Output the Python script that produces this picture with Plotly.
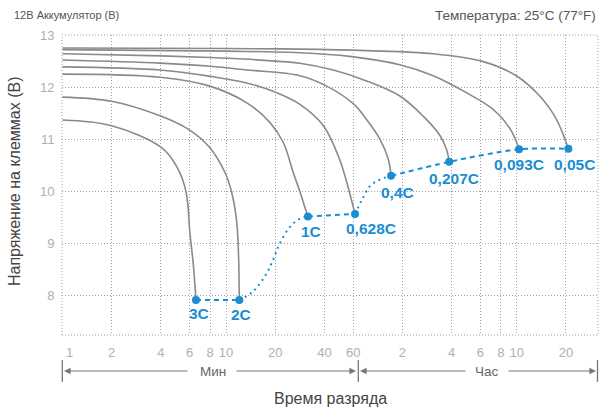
import math
import plotly.graph_objects as go

# ---- data (time in minutes, voltage in V) ----
rate_labels = ["3C", "2C", "1C", "0,628C", "0,4C", "0,207C", "0,093C", "0,05C"]
end_time = [6.55, 12.06, 31.7, 61.5, 102.2, 232, 620, 1241]
end_volt = [7.92, 7.92, 9.52, 9.57, 10.30, 10.57, 10.81, 10.82]

t_3c = [1, 2, 4.04, 4.99, 5.69, 6.02, 6.31, 6.55]
v_3c = [11.37, 11.26, 10.84, 10.48, 10.0, 9.19, 8.60, 7.92]

t_2c = [1, 2, 3.95, 5.9, 7.97, 9.87, 10.8, 11.6, 11.9, 12.06]
v_2c = [11.81, 11.73, 11.45, 11.19, 10.84, 10.36, 10.0, 9.45, 8.88, 7.92]

t_1c = [1, 3.95, 7.97, 13.4, 18.6, 22.4, 25.8, 28.3, 30.5, 31.7]
v_1c = [12.25, 12.19, 12.02, 11.70, 11.32, 10.94, 10.36, 10.0, 9.68, 9.52]

t_0628c = [1, 3.95, 7.97, 13.4, 19.4, 28.3, 39.4, 49.6, 56.4, 61.5]
v_0628c = [12.39, 12.33, 12.21, 12.08, 11.92, 11.67, 11.26, 10.61, 10.03, 9.57]

t_04c = [1, 3.95, 8, 13.4, 28.3, 41.3, 60.7, 72.4, 87.5, 98.5, 102.2]
v_04c = [12.52, 12.46, 12.40, 12.33, 12.22, 12.02, 11.67, 11.38, 11.0, 10.61, 10.30]

t_0207c = [1, 4, 8, 13, 20, 28.3, 45.3, 72.4, 115.6, 160, 204, 223, 232]
v_0207c = [12.64, 12.60, 12.57, 12.54, 12.50, 12.46, 12.33, 12.12, 11.83, 11.45, 11.07, 10.81, 10.57]

t_0093c = [1, 10, 28.3, 57, 115.6, 185, 297, 432, 549, 620]
v_0093c = [12.72, 12.69, 12.66, 12.59, 12.43, 12.22, 11.89, 11.57, 11.19, 10.81]

t_005c = [1, 10, 28.3, 72.4, 185, 374, 596, 829, 1051, 1241]
v_005c = [12.75, 12.74, 12.73, 12.70, 12.64, 12.49, 12.22, 11.83, 11.38, 10.82]

# end-voltage connector (read from the dotted transitions)
t_trans1 = [12.06, 14.7, 17.7, 19.5, 21.3, 24.6, 28.3, 31.7]
v_trans1 = [7.92, 8.09, 8.43, 8.71, 9.0, 9.32, 9.48, 9.52]
t_trans2 = [61.5, 67.6, 75.8, 87.5, 102.2]
v_trans2 = [9.57, 9.83, 10.10, 10.23, 10.30]

x_tickvals = [1, 2, 4, 6, 8, 10, 20, 40, 60, 120, 240, 360, 480, 600, 1200]
x_ticktext = ["\u2007\u20071", "2", "4", "6", "8", "10", "20", "40", "60", "2", "4", "6", "8", "10", "20"]
y_tickvals = [8, 9, 10, 11, 12, 13]

# label offsets in px (dx, dy)
label_dx = [3, 2, 3, 16, 6, 5, 0, 6]
label_dy = [-13, -14, -15, -15, -17, -17, -15, -16]

GRAY = "#8a8a8a"
BLUE = "#1a8ed1"
FONT = "Arial, Liberation Sans, sans-serif"

fig = go.Figure()

curves = [(t_3c, v_3c), (t_2c, v_2c), (t_1c, v_1c), (t_0628c, v_0628c),
          (t_04c, v_04c), (t_0207c, v_0207c), (t_0093c, v_0093c), (t_005c, v_005c)]
for tt, vv in curves:
    fig.add_trace(go.Scatter(x=tt, y=vv, mode="lines",
                             line=dict(color=GRAY, width=1.6, shape="spline", smoothing=1.0),
                             hoverinfo="skip", showlegend=False))

DASH = "5px,4px"
DOT = "2px,4px"
# 3C -> 2C
fig.add_trace(go.Scatter(x=end_time[0:2], y=end_volt[0:2], mode="lines",
                         line=dict(color=BLUE, width=2, dash=DASH), showlegend=False))
fig.add_trace(go.Scatter(x=t_trans1, y=v_trans1, mode="lines",
                         line=dict(color=BLUE, width=2, dash=DOT, shape="spline"), showlegend=False))
fig.add_trace(go.Scatter(x=end_time[2:4], y=end_volt[2:4], mode="lines",
                         line=dict(color=BLUE, width=2, dash=DASH), showlegend=False))
fig.add_trace(go.Scatter(x=t_trans2, y=v_trans2, mode="lines",
                         line=dict(color=BLUE, width=2, dash=DOT, shape="spline"), showlegend=False))
fig.add_trace(go.Scatter(x=end_time[4:], y=end_volt[4:], mode="lines",
                         line=dict(color=BLUE, width=2, dash=DASH, shape="spline", smoothing=0.8),
                         showlegend=False))

fig.add_trace(go.Scatter(x=end_time, y=end_volt, mode="markers",
                         marker=dict(color=BLUE, size=8), showlegend=False))

annotations = []
for lab, tt, vv, dx, dy in zip(rate_labels, end_time, end_volt, label_dx, label_dy):
    annotations.append(dict(x=math.log10(tt), y=vv, xref="x", yref="y", text=lab,
                            showarrow=False, xshift=dx, yshift=dy,
                            font=dict(family=FONT, size=15.5, color=BLUE, weight="bold")))

L, R, T, B = 62, 598, 35, 335
W, H = R - L, B - T


def px(xp):
    return (xp - L) / W


def py(yp):
    return (B - yp) / H


annotations += [
    dict(x=px(11.7), y=py(15), xref="paper", yref="paper", text="12В Аккумулятор (В)",
         showarrow=False, xanchor="left", yanchor="middle",
         font=dict(family=FONT, size=11, color="#555")),
    dict(x=px(598), y=py(15), xref="paper", yref="paper", text="Температура: 25°C (77°F)",
         showarrow=False, xanchor="right", yanchor="middle",
         font=dict(family=FONT, size=13.5, color="#555")),
    dict(x=px(14), y=py(182), xref="paper", yref="paper", text="Напряжение на клеммах (В)",
         showarrow=False, textangle=-90, xanchor="center", yanchor="middle",
         font=dict(family=FONT, size=16, color="#444")),
    dict(x=px(330), y=py(398), xref="paper", yref="paper", text="Время разряда",
         showarrow=False, xanchor="center", yanchor="middle",
         font=dict(family=FONT, size=16, color="#444")),
    dict(x=px(212.7), y=py(371), xref="paper", yref="paper", text="Мин",
         showarrow=False, xanchor="center", yanchor="middle",
         font=dict(family=FONT, size=13.5, color="#666")),
    dict(x=px(487), y=py(371), xref="paper", yref="paper", text="Час",
         showarrow=False, xanchor="center", yanchor="middle",
         font=dict(family=FONT, size=13.5, color="#666")),
]
# arrows (head, tail)
for head, tail in [(64, 189), (356, 235), (360, 467), (596, 507)]:
    annotations.append(dict(x=px(head), y=py(371), xref="paper", yref="paper", text="",
                            showarrow=True, ax=tail - head, ay=0, axref="pixel", ayref="pixel",
                            arrowhead=2, arrowsize=1.1, arrowwidth=1.2, arrowcolor="#777"))

shapes = [
    dict(type="rect", xref="paper", yref="paper", x0=0, x1=1, y0=0, y1=1,
         line=dict(color="#a0a0a0", width=1, dash="1px,2px"), layer="below"),
]
for xb in [62.3, 358.3, 597.5]:
    shapes.append(dict(type="line", xref="paper", yref="paper", x0=px(xb), x1=px(xb),
                       y0=py(360), y1=py(382), line=dict(color="#777", width=1.3)))

fig.update_layout(
    width=600, height=410,
    margin=dict(l=L, r=600 - R, t=T, b=410 - B),
    paper_bgcolor="white", plot_bgcolor="white",
    font=dict(family=FONT),
    showlegend=False,
    annotations=annotations,
    shapes=shapes,
    xaxis=dict(type="log", range=[-0.003, 3.275], tickvals=x_tickvals, ticktext=x_ticktext,
               showgrid=True, gridcolor="#a0a0a0", griddash="1px,2px", gridwidth=1,
               zeroline=False, showline=False,
               ticks="outside", ticklen=5, tickcolor="rgba(0,0,0,0)",
               tickfont=dict(family=FONT, size=13, color="#b0b0b0")),
    yaxis=dict(range=[7.25, 13], tickvals=y_tickvals,
               showgrid=True, gridcolor="#a0a0a0", griddash="1px,2px", gridwidth=1,
               zeroline=False, showline=False,
               ticks="outside", ticklen=4, tickcolor="rgba(0,0,0,0)",
               tickfont=dict(family=FONT, size=13, color="#b0b0b0")),
)

fig.write_html("out.html", config={"displayModeBar": False},
               post_script="document.body.style.margin='0';document.body.style.padding='0';")
